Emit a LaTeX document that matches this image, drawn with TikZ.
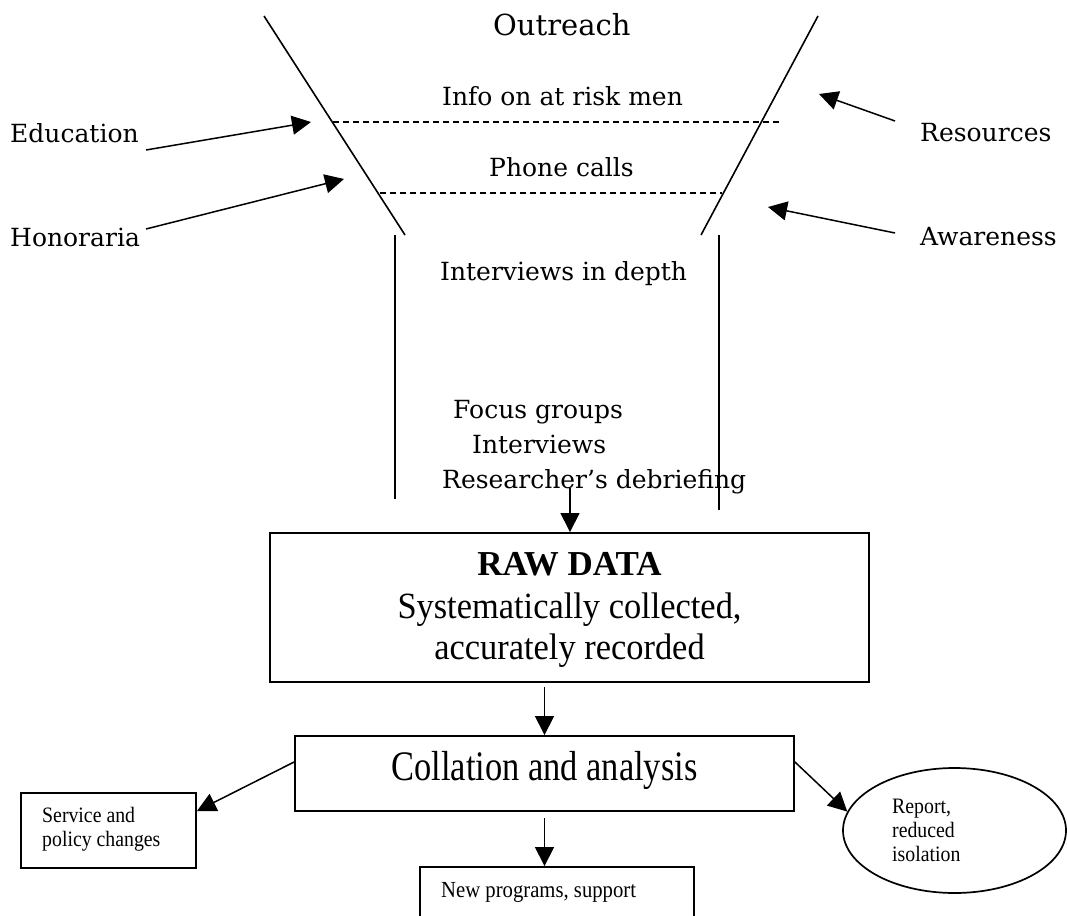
\documentclass[tikz,border=0pt]{standalone}
\usepackage{fontspec}
\setmainfont{Liberation Serif}
\newfontfamily\labelfont{DejaVu Serif}
\newfontfamily\boxfont{Liberation Serif}
\newfontfamily\midfont[FakeStretch=0.93]{Liberation Serif}
\newfontfamily\smallfont[FakeStretch=0.9]{Liberation Serif}
\newfontfamily\narrowfont[FakeStretch=0.82]{Liberation Serif}
\usetikzlibrary{arrows.meta,shapes.geometric}

\begin{document}
\begin{tikzpicture}[x=1pt,y=-1pt,
  lbl/.style={font={\labelfont\fontsize{25}{29}\selectfont}, inner sep=0pt, anchor=base west},
  small/.style={font={\smallfont\fontsize{22}{25}\selectfont}, inner sep=0pt, anchor=base west},
  mid/.style={font={\midfont\fontsize{37}{44}\selectfont}, inner sep=0pt, anchor=base},
  funnel/.style={line width=1.6pt},
  guide/.style={line width=1.4pt, dash pattern=on 6pt off 4pt},
  arr/.style={line width=1.5pt, -{Triangle[length=19pt,width=19pt]}},
  box/.style={draw, line width=1.9pt, rectangle, inner sep=0pt},
  oval/.style={draw, line width=1.7pt, ellipse, inner sep=0pt}
]
\useasboundingbox (0,0) rectangle (1067,915);
\clip (0,0) rectangle (1067,915);

% funnel walls
\draw[funnel] (264,16) -- (405,235);
\draw[funnel] (818,16) -- (701,235);
\draw[funnel] (395,235) -- (395,499);
\draw[funnel] (719,235) -- (719,510);

% stages inside the funnel
\draw[guide] (333,122) -- (779,122);
\draw[guide] (380,193) -- (722,193);

\node[lbl, font={\labelfont\fontsize{29}{34}\selectfont}] (outreach) at (493,36) {Outreach};
\node[lbl] (info) at (442,106) {Info on at risk men};
\node[lbl] (phone) at (489,176) {Phone calls};
\node[lbl] (depth) at (440,280) {Interviews in depth};
\node[lbl] (focus) at (453,418) {Focus groups};
\node[lbl] (intv) at (472,453) {Interviews};
\node[lbl] (debrief) at (442,488) {Researcher’s debriefing};

% inputs to the funnel
\node[lbl] (edu) at (10,142) {Education};
\node[lbl] (hon) at (10,246) {Honoraria};
\node[lbl] (res) at (920,141) {Resources};
\node[lbl] (awa) at (920,245) {Awareness};

\coordinate (eduTail) at (146,150);
\coordinate (eduTip) at (311,122);
\coordinate (honTail) at (146,229);
\coordinate (honTip) at (344,179);
\coordinate (resTail) at (895,121);
\coordinate (resTip) at (819,94);
\coordinate (awaTail) at (895,233);
\coordinate (awaTip) at (768,207);
\draw[arr] (eduTail) -- (eduTip);
\draw[arr] (honTail) -- (honTip);
\draw[arr] (resTail) -- (resTip);
\draw[arr] (awaTail) -- (awaTip);

% data boxes
\node[box, minimum width=599pt, minimum height=149pt] (raw) at (569.5,607.5) {};
\node[mid, font={\boxfont\bfseries\fontsize{35}{42}\selectfont}] (rawA) at (569.5,575) {RAW DATA};
\node[mid] (rawB) at (569.5,618) {Systematically collected,};
\node[mid] (rawC) at (569.5,659) {accurately recorded};

\node[box, minimum width=499pt, minimum height=75pt] (coll) at (544.5,773.5) {};
\node[mid, font={\narrowfont\fontsize{42}{48}\selectfont}] (collT) at (544.5,780) {Collation and analysis};

\node[box, minimum width=175pt, minimum height=75pt] (svc) at (108.5,830.5) {};
\node[small] (svcA) at (42,822) {Service and};
\node[small] (svcB) at (42,846) {policy changes};

\node[box, minimum width=274pt, minimum height=80pt] (newp) at (557,907) {};
\node[small, font={\smallfont\fontsize{23}{26}\selectfont}] (newpT) at (441,897) {New programs, support};

\node[oval, minimum width=223pt, minimum height=125pt] (rep) at (954.5,830.5) {};
\node[small] (repA) at (892,813) {Report,};
\node[small] (repB) at (892,837) {reduced};
\node[small] (repC) at (892,861) {isolation};

% flow between the boxes
\coordinate (dbTail) at (570,488);
\draw[arr] (dbTail) -- (dbTail |- raw.north);
\coordinate (rcTail) at (544.5,687);
\draw[arr] (rcTail) -- (coll.north);
\coordinate (cnTail) at (544.5,818);
\draw[arr] (cnTail) -- (cnTail |- newp.north);
\draw[arr] ([yshift=11.5pt]coll.west) -- ([yshift=19.5pt]svc.east);
\draw[arr] ([yshift=11.5pt]coll.east) -- (rep.170);
\end{tikzpicture}
\end{document}
